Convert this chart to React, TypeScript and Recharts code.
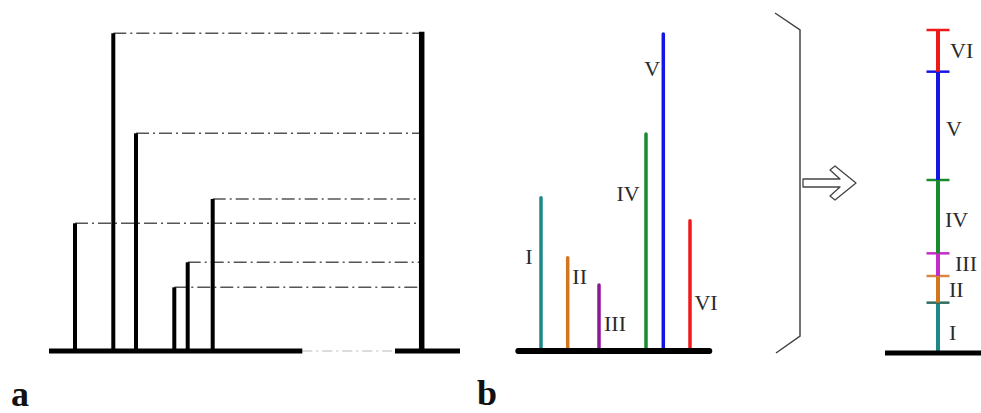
import React from 'react';
import {
  ComposedChart,
  BarChart,
  Bar,
  Line,
  XAxis,
  YAxis,
  LabelList,
  ReferenceLine
} from 'recharts';

// panel a: strand feet along the base line and their lengths
const aStemX = [7.5, 11.33, 13.6, 17.43, 18.77, 21.27];
const aStemLen = [12.77, 31.77, 21.77, 6.37, 8.87, 15.2];
const aRightX = 42.17;
const aRightLen = 31.93;
const aBaseLeft = [4.9, 30.23];
const aBaseRight = [39.5, 46.0];

// panel b: the same strands, sorted
const strandNames = ['I', 'II', 'III', 'IV', 'V', 'VI'];
const bStemX = [4.1, 6.77, 9.9, 14.6, 16.33, 19.0];
const bStemLen = [15.33, 9.33, 6.6, 21.7, 31.7, 13.03];
const bBase = [1.83, 20.93];

// panel c: strands stacked end to end
const cSegLen = [15.1, 8.0, 6.8, 22.0, 32.5, 12.5];

const bColors = ['#1c8888', '#d2761e', '#8c1898', '#1a8a2e', '#1414e4', '#f01818'];
const cColors = ['#1c8888', '#d2761e', '#c42cc8', '#1a8a2e', '#1414e4', '#f01818'];
const cTickColors = ['#2f6c62', '#d98640', '#c42cc8', '#1a8a2e', '#1414e4', '#f01818'];

// label offsets (px) from the top of each stem in panel b
const bLabelOffset = [
  { dx: -12, dy: 59 },
  { dx: 12, dy: 19 },
  { dx: 16, dy: 38 },
  { dx: -18, dy: 59 },
  { dx: -11, dy: 34 },
  { dx: 16, dy: 82 }
];
// label offsets (px) right of the column in panel c
const cLabelOffset = [
  { dx: 9, dy: 5 },
  { dx: 9, dy: 0 },
  { dx: 15, dy: -1 },
  { dx: 5, dy: 3 },
  { dx: 6, dy: 3 },
  { dx: 10, dy: 0 }
];

const serif = "'Liberation Serif', 'Times New Roman', serif";
const dashDot = '13 4 2 4';

const segLine = (
  key: string,
  pts: { x: number; y: number }[],
  stroke: string,
  width: number,
  extra: any = {},
  children: any = null
) => (
  <Line
    key={key}
    data={pts}
    dataKey="y"
    type="linear"
    stroke={stroke}
    strokeWidth={width}
    dot={false}
    activeDot={false}
    legendType="none"
    isAnimationActive={false}
    {...extra}
  >
    {children}
  </Line>
);

const PanelA = () => (
  <ComposedChart width={480} height={360} margin={{ top: 0, right: 0, bottom: 0, left: 0 }}>
    <XAxis type="number" dataKey="x" domain={[0, 48]} allowDataOverflow hide />
    <YAxis type="number" domain={[-0.9, 35.1]} allowDataOverflow hide />
    {segLine('conn', [{ x: aBaseLeft[1], y: 0 }, { x: aBaseRight[0], y: 0 }], '#b8b8b8', 1, {
      strokeDasharray: '10 4 2 4'
    })}
    {aStemX.map((x, i) =>
      segLine(`d${i}`, [{ x, y: aStemLen[i] }, { x: aRightX, y: aStemLen[i] }], '#555', 1.4, {
        strokeDasharray: dashDot
      })
    )}
    {aStemX.map((x, i) => segLine(`s${i}`, [{ x, y: 0 }, { x, y: aStemLen[i] }], '#000', 4))}
    {segLine('right', [{ x: aRightX, y: 0 }, { x: aRightX, y: aRightLen }], '#000', 5.5)}
    {segLine('baseL', [{ x: aBaseLeft[0], y: 0 }, { x: aBaseLeft[1], y: 0 }], '#000', 5)}
    {segLine('baseR', [{ x: aBaseRight[0], y: 0 }, { x: aBaseRight[1], y: 0 }], '#000', 5)}
  </ComposedChart>
);

const PanelB = () => (
  <ComposedChart width={220} height={360} margin={{ top: 0, right: 0, bottom: 0, left: 0 }}>
    <XAxis type="number" dataKey="x" domain={[0, 22]} allowDataOverflow hide />
    <YAxis type="number" domain={[-0.9, 35.1]} allowDataOverflow hide />
    {bStemX.map((x, i) =>
      segLine(
        `b${i}`,
        [{ x, y: 0 }, { x, y: bStemLen[i] }],
        bColors[i],
        3.5,
        { strokeLinecap: 'round' },
        <LabelList
          dataKey="y"
          content={(p: any) =>
            p.value > 0 ? (
              <text
                x={p.x + bLabelOffset[i].dx}
                y={p.y + bLabelOffset[i].dy}
                textAnchor="middle"
                dominantBaseline="central"
                fontFamily={serif}
                fontSize={22}
                fill="#2a2a2a"
              >
                {strandNames[i]}
              </text>
            ) : null
          }
        />
      )
    )}
    {segLine('baseB', [{ x: bBase[0], y: 0 }, { x: bBase[1], y: 0 }], '#000', 6, {
      strokeLinecap: 'round'
    })}
  </ComposedChart>
);

const CSegment = (props: any) => {
  const { x, y, width, height, k } = props;
  const cx = x + width / 2;
  return (
    <g>
      <rect x={x} y={y} width={width} height={height} fill={cColors[k]} />
      <line x1={cx - 11.5} x2={cx + 11.5} y1={y} y2={y} stroke={cTickColors[k]} strokeWidth={2.5} />
      <text
        x={x + width + cLabelOffset[k].dx}
        y={y + height / 2 + cLabelOffset[k].dy}
        dominantBaseline="central"
        fontFamily={serif}
        fontSize={22}
        fill="#2a2a2a"
      >
        {strandNames[k]}
      </text>
    </g>
  );
};

const cRow: any = { name: 'c' };
strandNames.forEach((n, i) => {
  cRow[n] = cSegLen[i];
});

const PanelC = () => (
  <BarChart width={106} height={360} data={[cRow]} margin={{ top: 0, right: 0, bottom: 0, left: 0 }}>
    <XAxis dataKey="name" hide />
    <YAxis type="number" domain={[-2.1, 105.9]} allowDataOverflow hide />
    {strandNames.map((n, i) => (
      <Bar
        key={n}
        dataKey={n}
        stackId="s"
        barSize={4}
        fill={cColors[i]}
        isAnimationActive={false}
        shape={(p: any) => <CSegment {...p} k={i} />}
      />
    ))}
    <ReferenceLine y={0} stroke="#000" strokeWidth={5} />
  </BarChart>
);

const App: React.FC = () => (
  <div
    style={{
      position: 'absolute',
      left: 0,
      top: 0,
      width: 981,
      height: 413,
      overflow: 'hidden',
      background: '#fff'
    }}
  >
    <div style={{ position: 'absolute', left: 0, top: 0 }}>
      <PanelA />
    </div>
    <div style={{ position: 'absolute', left: 500, top: 0 }}>
      <PanelB />
    </div>
    <div style={{ position: 'absolute', left: 885, top: 0 }}>
      <PanelC />
    </div>
    <svg
      width={981}
      height={413}
      style={{ position: 'absolute', left: 0, top: 0, pointerEvents: 'none' }}
    >
      <polyline points="775,13 800,30 800,336 776,353" fill="none" stroke="#444" strokeWidth={1.5} />
      <polygon
        points="803,179 840,179 830,170 835,166 856,183 835,200 830,196 840,187 803,187"
        fill="#fff"
        stroke="#444"
        strokeWidth={1.3}
        strokeLinejoin="round"
      />
      <text x={11} y={406} fontFamily={serif} fontWeight="bold" fontSize={36} fill="#111">
        a
      </text>
      <text x={477} y={405} fontFamily={serif} fontWeight="bold" fontSize={36} fill="#111">
        b
      </text>
    </svg>
  </div>
);

export default App;
